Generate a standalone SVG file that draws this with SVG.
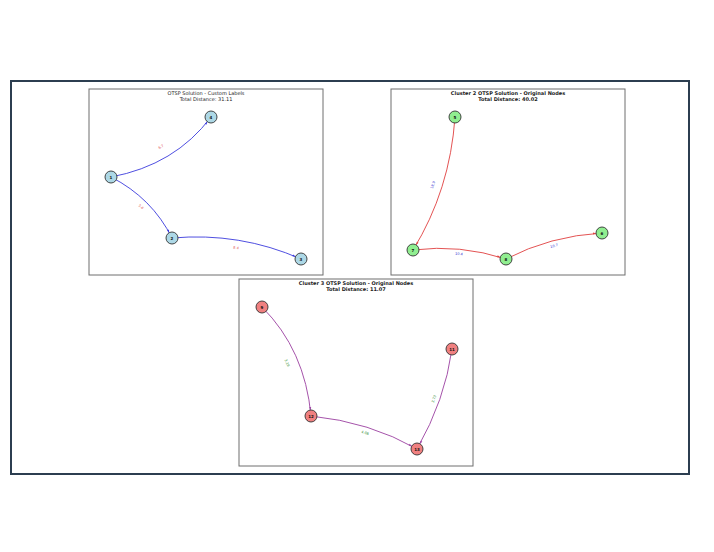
<svg xmlns="http://www.w3.org/2000/svg" width="714" height="552" viewBox="0 0 714 552">
<style>
.frame{fill:#fff;stroke:#2c3e50;stroke-width:2}
.panel{fill:#fff;stroke:#6e6e6e;stroke-width:1}
.title{font-family:"DejaVu Sans",sans-serif;font-size:5px;fill:#222;text-anchor:middle}
.bold{font-weight:bold}
.edge{fill:none;stroke-width:0.9}
.blue{stroke:#3b3bdc}
.red{stroke:#e0403f}
.purple{stroke:#9b3fa0}
.node{stroke:#333;stroke-width:0.9}
.n1{fill:#add8e6}.n2{fill:#90ee90}.n3{fill:#f08080}
.nl{font-family:"DejaVu Sans",sans-serif;font-size:4px;font-weight:bold;fill:#111;text-anchor:middle;dominant-baseline:central}
.el{font-family:"DejaVu Sans",sans-serif;font-size:3.5px;text-anchor:middle;dominant-baseline:central}
.lr{fill:#e05050}.lb{fill:#3030d0}.lg{fill:#2a8a2a}
</style>
<defs>
<marker id="ab" markerUnits="userSpaceOnUse" markerWidth="10" markerHeight="10" refX="6" refY="0" orient="auto" overflow="visible"><path d="M-3,-1 L0,0 L-3,1 z" fill="#3b3bdc"/></marker>
<marker id="ar" markerUnits="userSpaceOnUse" markerWidth="10" markerHeight="10" refX="6" refY="0" orient="auto" overflow="visible"><path d="M-3,-1 L0,0 L-3,1 z" fill="#e0403f"/></marker>
<marker id="ap" markerUnits="userSpaceOnUse" markerWidth="10" markerHeight="10" refX="6" refY="0" orient="auto" overflow="visible"><path d="M-3,-1 L0,0 L-3,1 z" fill="#9b3fa0"/></marker>
</defs>
<rect class="frame" x="11" y="81" width="678" height="393"/>
<rect class="panel" x="89" y="89" width="234" height="186"/>
<rect class="panel" x="391" y="89" width="234" height="186"/>
<rect class="panel" x="239" y="279" width="234" height="187"/>
<text class="title" x="206" y="95">OTSP Solution - Custom Labels</text>
<text class="title" x="206" y="101">Total Distance: 31.11</text>
<text class="title bold" x="508" y="95">Cluster 2 OTSP Solution - Original Nodes</text>
<text class="title bold" x="508" y="101">Total Distance: 40.02</text>
<text class="title bold" x="356" y="285">Cluster 3 OTSP Solution - Original Nodes</text>
<text class="title bold" x="356" y="291">Total Distance: 11.07</text>
<g id="connectors">
<path class="edge blue" d="M111,177 Q175,165 211,117" marker-end="url(#ab)"/>
<path class="edge blue" d="M111,177 Q152,198 172,238" marker-end="url(#ab)"/>
<path class="edge blue" d="M172,238 Q240,232 301,259" marker-end="url(#ab)"/>
<path class="edge red" d="M455,117 Q450,190 413,250" marker-end="url(#ar)"/>
<path class="edge red" d="M413,250 Q460,244 506,259" marker-end="url(#ar)"/>
<path class="edge red" d="M506,259 Q550,236 602,233" marker-end="url(#ar)"/>
<path class="edge purple" d="M262,307 Q305,350 311,416" marker-end="url(#ap)"/>
<path class="edge purple" d="M311,416 Q370,422 417,449" marker-end="url(#ap)"/>
<path class="edge purple" d="M452,349 Q445,400 417,449" marker-end="url(#ap)"/>
<text class="el lr" transform="translate(161,147) rotate(-31)">6.7</text>
<text class="el lr" transform="translate(141,207) rotate(45)">5.6</text>
<text class="el lr" transform="translate(236,248) rotate(9)">8.4</text>
<text class="el lb" transform="translate(433,185) rotate(-72)">18.9</text>
<text class="el lb" transform="translate(459,254) rotate(5)">10.4</text>
<text class="el lb" transform="translate(554,246) rotate(-15)">10.7</text>
<text class="el lg" transform="translate(287,363) rotate(66)">3.16</text>
<text class="el lg" transform="translate(365,433) rotate(17)">4.08</text>
<text class="el lg" transform="translate(434,399) rotate(-71)">3.73</text>
</g>
<g id="node1"><circle class="node n1" cx="111" cy="177" r="6"/><text class="nl" x="111" y="177">1</text></g>
<g id="node4"><circle class="node n1" cx="211" cy="117" r="6"/><text class="nl" x="211" y="117">4</text></g>
<g id="node2"><circle class="node n1" cx="172" cy="238" r="6"/><text class="nl" x="172" y="238">2</text></g>
<g id="node3"><circle class="node n1" cx="301" cy="259" r="6"/><text class="nl" x="301" y="259">3</text></g>
<g id="node5"><circle class="node n2" cx="455" cy="117" r="6"/><text class="nl" x="455" y="117">5</text></g>
<g id="node7"><circle class="node n2" cx="413" cy="250" r="6"/><text class="nl" x="413" y="250">7</text></g>
<g id="node8"><circle class="node n2" cx="506" cy="259" r="6"/><text class="nl" x="506" y="259">8</text></g>
<g id="node6"><circle class="node n2" cx="602" cy="233" r="6"/><text class="nl" x="602" y="233">6</text></g>
<g id="node9"><circle class="node n3" cx="262" cy="307" r="6"/><text class="nl" x="262" y="307">9</text></g>
<g id="node12"><circle class="node n3" cx="311" cy="416" r="6"/><text class="nl" x="311" y="416">12</text></g>
<g id="node13"><circle class="node n3" cx="417" cy="449" r="6"/><text class="nl" x="417" y="449">13</text></g>
<g id="node11"><circle class="node n3" cx="452" cy="349" r="6"/><text class="nl" x="452" y="349">11</text></g>
</svg>
